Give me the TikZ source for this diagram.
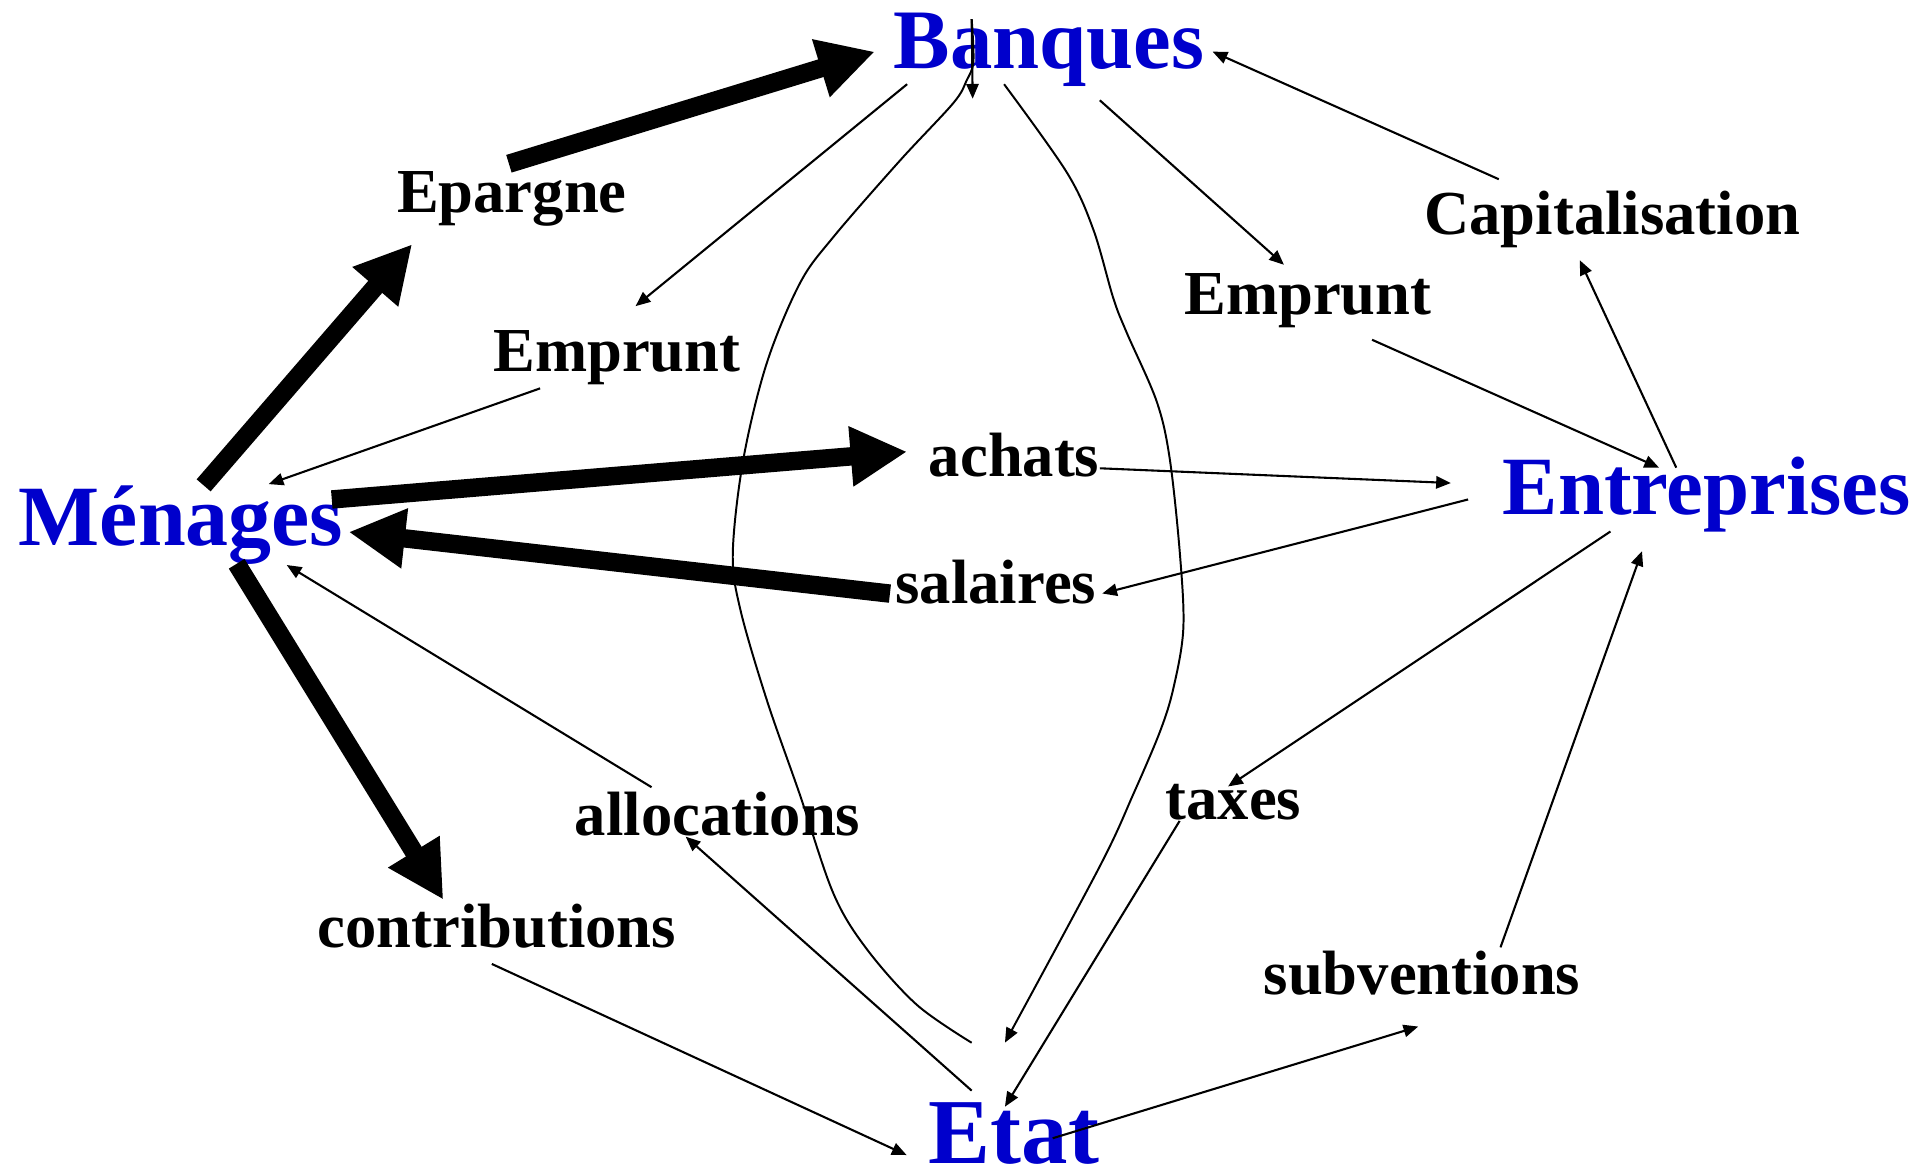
\documentclass[tikz,border=0pt]{standalone}
\usepackage{fontspec}
\setmainfont{Liberation Serif}
\usetikzlibrary{arrows.meta,calc}
\definecolor{actorblue}{RGB}{0,0,204}
\begin{document}
\begin{tikzpicture}[x=1pt,y=-1pt,
  lab/.style={anchor=base,inner sep=0pt,font=\fontsize{51}{60}\selectfont\bfseries},
  actor/.style={anchor=base,inner sep=0pt,text=actorblue},
  thinflow/.style={line width=1.7pt,-{Triangle[length=12pt,width=10pt]}},
  thickflow/.style={line width=15pt,-{Triangle[length=46pt,width=46pt]}},
  curveflow/.style={line width=1.6pt}]
\useasboundingbox (0,0) rectangle (1565,953.2);

% actors
\node[actor,font=\fontsize{69}{80}\selectfont\bfseries] (banques) at (854.5,55.6) {Banques};
\node[actor,font=\fontsize{70}{80}\selectfont\bfseries] (menages) at (147.5,444.3) {Ménages};
\node[actor,font=\fontsize{67.5}{80}\selectfont\bfseries] (entreprises) at (1390.5,419.3) {Entreprises};
\node[actor,font=\fontsize{75.7}{86}\selectfont\bfseries] (etat) at (826,947.6) {Etat};

% flow labels
\node[lab] (epargne) at (417,173) {Epargne};
\node[lab] (empruntL) at (502.5,302.4) {Emprunt};
\node[lab] (empruntR) at (1065.5,256.3) {Emprunt};
\node[lab] (capital) at (1313.5,190.8) {Capitalisation};
\node[lab] (achats) at (826.2,387.8) {achats};
\node[lab] (salaires) at (811.3,491.5) {salaires};
\node[lab] (allocations) at (584.6,680.7) {allocations};
\node[lab] (contributions) at (404.8,771.8) {contributions};
\node[lab] (taxes) at (1004.9,667.8) {taxes};
\node[lab] (subventions) at (1158.5,810.4) {subventions};

% thick flows
\draw[thickflow] ($(menages.base)+(18.4,-48.9)$) -- ($(epargne.base)+(-81.2,25.9)$);
\draw[thickflow] ($(epargne.base)+(-2.4,-39.6)$) -- ($(banques.base)+(-141.8,-13.5)$);
\draw[thickflow] ($(menages.base)+(122.8,-37.4)$) -- ($(achats.base)+(-87.2,-19.8)$);
\draw[thickflow] ($(salaires.base)+(-86.3,-7.9)$) -- ($(menages.base)+(136.5,-10.9)$);
\draw[thickflow] ($(menages.base)+(45.3,15)$) -- ($(contributions.base)+(-43.6,-38.8)$);

% thin flows
\draw[thinflow] ($(banques.base)+(-115.5,13)$) -- ($(empruntL.base)+(15.3,-53)$);
\draw[thinflow] ($(empruntL.base)+(-62.5,14)$) -- ($(menages.base)+(71.4,-49.9)$);
\draw[thinflow] ($(banques.base)+(41.5,26.1)$) -- ($(empruntR.base)+(-19.5,-40.6)$);
\draw[thinflow] ($(empruntR.base)+(52.3,20.5)$) -- ($(entreprises.base)+(-38.9,-38.3)$);
\draw[thinflow] ($(capital.base)+(-92.5,-44.8)$) -- ($(banques.base)+(133.4,-13.5)$);
\draw[thinflow] ($(entreprises.base)+(-24.9,-38.3)$) -- ($(capital.base)+(-26.5,21.2)$);
\draw[thinflow] ($(achats.base)+(69.8,-6.3)$) -- ($(entreprises.base)+(-208.5,-25.8)$);
\draw[thinflow] ($(entreprises.base)+(-194.5,-12.4)$) -- ($(salaires.base)+(86.7,-8)$);
\draw[thinflow] ($(entreprises.base)+(-78.5,13.7)$) -- ($(taxes.base)+(-4.4,-27.1)$);
\draw[thinflow] ($(taxes.base)+(-43.9,1)$) -- ($(etat.base)+(-7.3,-46)$);
\draw[thinflow] ($(subventions.base)+(63.9,-38.6)$) -- ($(entreprises.base)+(-52.8,29.7)$);
\draw[thinflow] ($(etat.base)+(31.6,-20.3)$) -- ($(subventions.base)+(-3.1,25.9)$);
\draw[thinflow] ($(etat.base)+(-34.4,-59.1)$) -- ($(allocations.base)+(-26,0.9)$);
\draw[thinflow] ($(allocations.base)+(-53.8,-39.4)$) -- ($(menages.base)+(86.1,16)$);
\draw[thinflow] ($(contributions.base)+(-4.1,13.5)$) -- ($(etat.base)+(-87.4,-6.6)$);

% curved flows between Etat and Banques
\coordinate (lcStart) at ($(etat.base)+(-34.4,-98.1)$);
\coordinate (lcTop) at ($(banques.base)+(-62.9,-40)$);
\coordinate (lcTip) at ($(banques.base)+(-62.1,24.8)$);
\draw[curveflow] plot[smooth,tension=0.55] coordinates {(lcStart) (746.8,818.5) (706,773) (679,728) (651.7,647.6) (624.6,570) (603,496) (597,450) (605.6,374) (624.6,296) (651.7,230.7) (679,193) (733,131) (776.6,84) (787.5,65.5) (793,50) (lcTop)};
\draw[thinflow] (lcTop) -- (lcTip);

\coordinate (rcStart) at ($(banques.base)+(-36.5,13)$);
\coordinate (rcTip) at ($(etat.base)+(-7.3,-98.2)$);
\draw[curveflow,-{Triangle[length=12pt,width=10pt]}] plot[smooth,tension=0.55] coordinates {(rcStart) (869,140.3) (890.7,187) (907,243) (917.9,271) (942.3,327) (953,374) (961.3,452) (964,512.5) (955.9,560.8) (945,596) (923,647.6) (896,705.7) (rcTip)};
\end{tikzpicture}
\end{document}
